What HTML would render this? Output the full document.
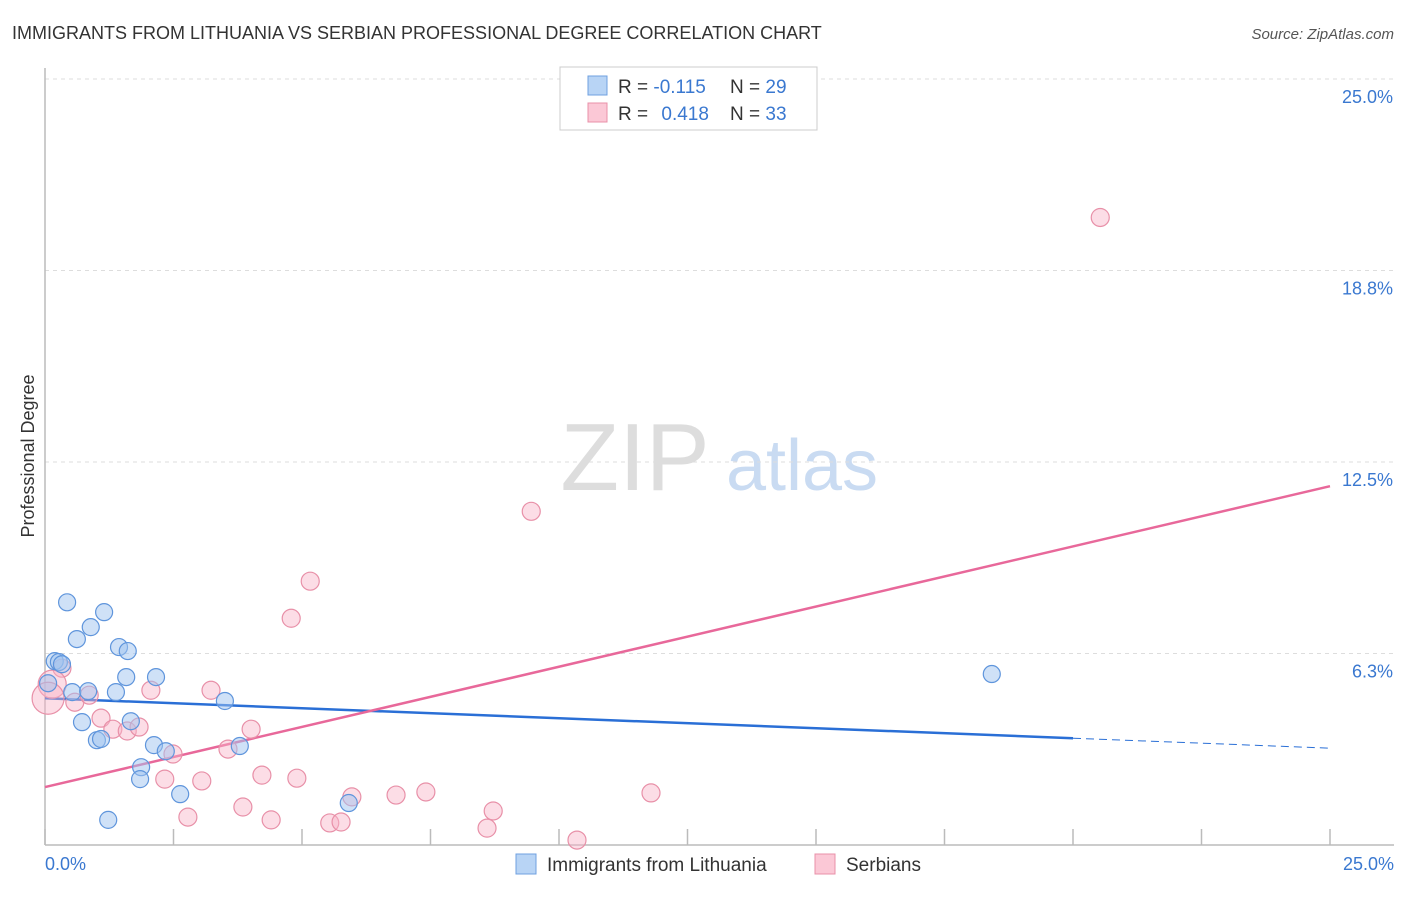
<!DOCTYPE html>
<html><head><meta charset="utf-8"><style>
body{margin:0;background:#fff;font-family:"Liberation Sans",sans-serif;}
svg text{font-family:"Liberation Sans",sans-serif;}
</style></head><body>
<svg width="1406" height="892" viewBox="0 0 1406 892" id="chart">
<text x="12" y="39" font-size="18" fill="#333">IMMIGRANTS FROM LITHUANIA VS SERBIAN PROFESSIONAL DEGREE CORRELATION CHART</text>
<text x="1394" y="39" font-size="15" fill="#555" font-style="italic" text-anchor="end">Source: ZipAtlas.com</text>
<g>
<text x="635" y="490" font-size="96" fill="#ddd" font-family="Liberation Serif" text-anchor="middle">ZIP</text>
<text x="802" y="490" font-size="72" fill="#c9dbf2" text-anchor="middle">atlas</text>
</g>
<g id="grid"></g>
<g id="axes"></g>
<g id="lines"></g>
<g id="points"></g>
<text transform="translate(34,456) rotate(-90)" font-size="18" fill="#333" text-anchor="middle">Professional Degree</text>
<text x="45" y="870" font-size="18" fill="#3a78d0">0.0%</text>
<text x="1394" y="870" font-size="18" fill="#3a78d0" text-anchor="end">25.0%</text>
<g>
<rect x="560" y="67" width="257" height="63" fill="#fff" stroke="#ccc"/>
<rect x="588" y="76" width="19" height="19" fill="#b8d4f5" stroke="#6fa0e0"/>
<rect x="588" y="103" width="19" height="19" fill="#fbc8d6" stroke="#e890a8"/>
<text x="618" y="93" font-size="19" fill="#333">R = <tspan fill="#3a78d0">-0.115</tspan></text>
<text x="730" y="93" font-size="19" fill="#333">N = <tspan fill="#3a78d0">29</tspan></text>
<text x="618" y="120" font-size="19" fill="#333">R = <tspan fill="#3a78d0" dx="8">0.418</tspan></text>
<text x="730" y="120" font-size="19" fill="#333">N = <tspan fill="#3a78d0">33</tspan></text>
</g>
<g>
<rect x="516" y="854" width="20" height="20" fill="#b8d4f5" stroke="#6fa0e0"/>
<text x="547" y="871" font-size="19" fill="#333">Immigrants from Lithuania</text>
<rect x="815" y="854" width="20" height="20" fill="#fbc8d6" stroke="#e890a8"/>
<text x="846" y="871" font-size="19" fill="#333">Serbians</text>
</g>
</svg>
<script>
const yTicks=[6.25,12.5,18.75,25];
const yTickLabels=["6.3%","12.5%","18.8%","25.0%"];
const blueX=[0.43,1.15,0.89,0.62,1.44,1.61,0.19,0.27,0.33,0.06,0.53,0.84,1.38,1.58,2.16,3.50,0.72,1.67,1.01,1.09,2.12,2.35,3.79,1.87,1.85,2.63,5.91,1.23,18.42];
const blueY=[7.92,7.60,7.11,6.72,6.46,6.33,6.00,5.97,5.90,5.28,4.99,5.02,4.99,5.48,5.48,4.70,4.01,4.04,3.42,3.46,3.26,3.06,3.23,2.54,2.15,1.66,1.37,0.82,5.58];
const pinkX=[20.53,9.46,5.16,4.79,0.33,0.14,0.06,0.58,0.86,2.06,3.23,1.09,1.32,1.60,1.83,2.49,3.56,4.01,2.33,3.05,4.22,4.90,3.85,2.78,4.40,5.97,5.54,5.76,6.83,7.41,8.72,8.60,10.35,11.79];
const pinkY=[20.48,10.89,8.61,7.40,5.77,5.25,4.79,4.66,4.89,5.05,5.05,4.14,3.78,3.72,3.85,2.97,3.13,3.78,2.15,2.09,2.28,2.18,1.24,0.91,0.82,1.57,0.72,0.75,1.63,1.73,1.11,0.55,0.16,1.70];
const pinkR=[9,9,9,9,9,14,16,9,9,9,9,9,9,9,9,9,9,9,9,9,9,9,9,9,9,9,9,9,9,9,9,9,9,9];
const blueTrend=[4.79,3.16];
const pinkTrend=[1.89,11.71];
const X0=45,X1=1330,Y0=845,Y1=79;
const sx=v=>X0+(X1-X0)*v/25;
const sy=v=>Y0-(Y0-Y1)*v/25;
const NS="http://www.w3.org/2000/svg";
function mk(tag,attrs,parent){const e=document.createElementNS(NS,tag);for(const k in attrs)e.setAttribute(k,attrs[k]);document.getElementById(parent).appendChild(e);return e;}
yTicks.forEach((t,i)=>{
  const g=mk('line',{x1:X0,x2:1394,y1:sy(t),y2:sy(t),stroke:'#ddd','stroke-dasharray':'4,4'},'grid');
  
  
  const tx=mk('text',{x:1393,y:sy(t)+24,'font-size':18,fill:'#3a78d0','text-anchor':'end'},'grid');
  tx.textContent=yTickLabels[i];
  
  
});
const ya=mk('line',{x1:X0,x2:X0,y1:68,y2:Y0,stroke:'#bbb','stroke-width':1.5},'axes');


const xa=mk('line',{x1:X0,x2:1394,y1:Y0,y2:Y0,stroke:'#bbb','stroke-width':1.5},'axes');


for(let i=0;i<=10;i++){
  const t=mk('line',{x1:sx(i*2.5),x2:sx(i*2.5),y1:Y0,y2:Y0-16,stroke:'#bbb','stroke-width':1.5},'axes');
  
  
}
const b1=mk('line',{x1:sx(0),y1:sy(blueTrend[0]),x2:sx(20),y2:sy(blueTrend[0]+(blueTrend[1]-blueTrend[0])*0.8),stroke:'#2a6fd6','stroke-width':2.5},'lines');


const b2=mk('line',{x1:sx(20),y1:sy(blueTrend[0]+(blueTrend[1]-blueTrend[0])*0.8),x2:sx(25),y2:sy(blueTrend[1]),stroke:'#2a6fd6','stroke-width':1,'stroke-dasharray':'8,5'},'lines');


const p1=mk('line',{x1:sx(0),y1:sy(pinkTrend[0]),x2:sx(25),y2:sy(pinkTrend[1]),stroke:'#e8689a','stroke-width':2.5},'lines');


pinkX.forEach((x,i)=>{
  const c=mk('circle',{cx:sx(x),cy:sy(pinkY[i]),r:pinkR[i],fill:'rgba(248,180,200,0.45)',stroke:'#e890a8','stroke-width':1.2},'points');
  
  
});
blueX.forEach((x,i)=>{
  const c=mk('circle',{cx:sx(x),cy:sy(blueY[i]),r:8.5,fill:'rgba(160,196,240,0.5)',stroke:'#5f95dc','stroke-width':1.2},'points');
  
  
});
</script>
</body></html>
